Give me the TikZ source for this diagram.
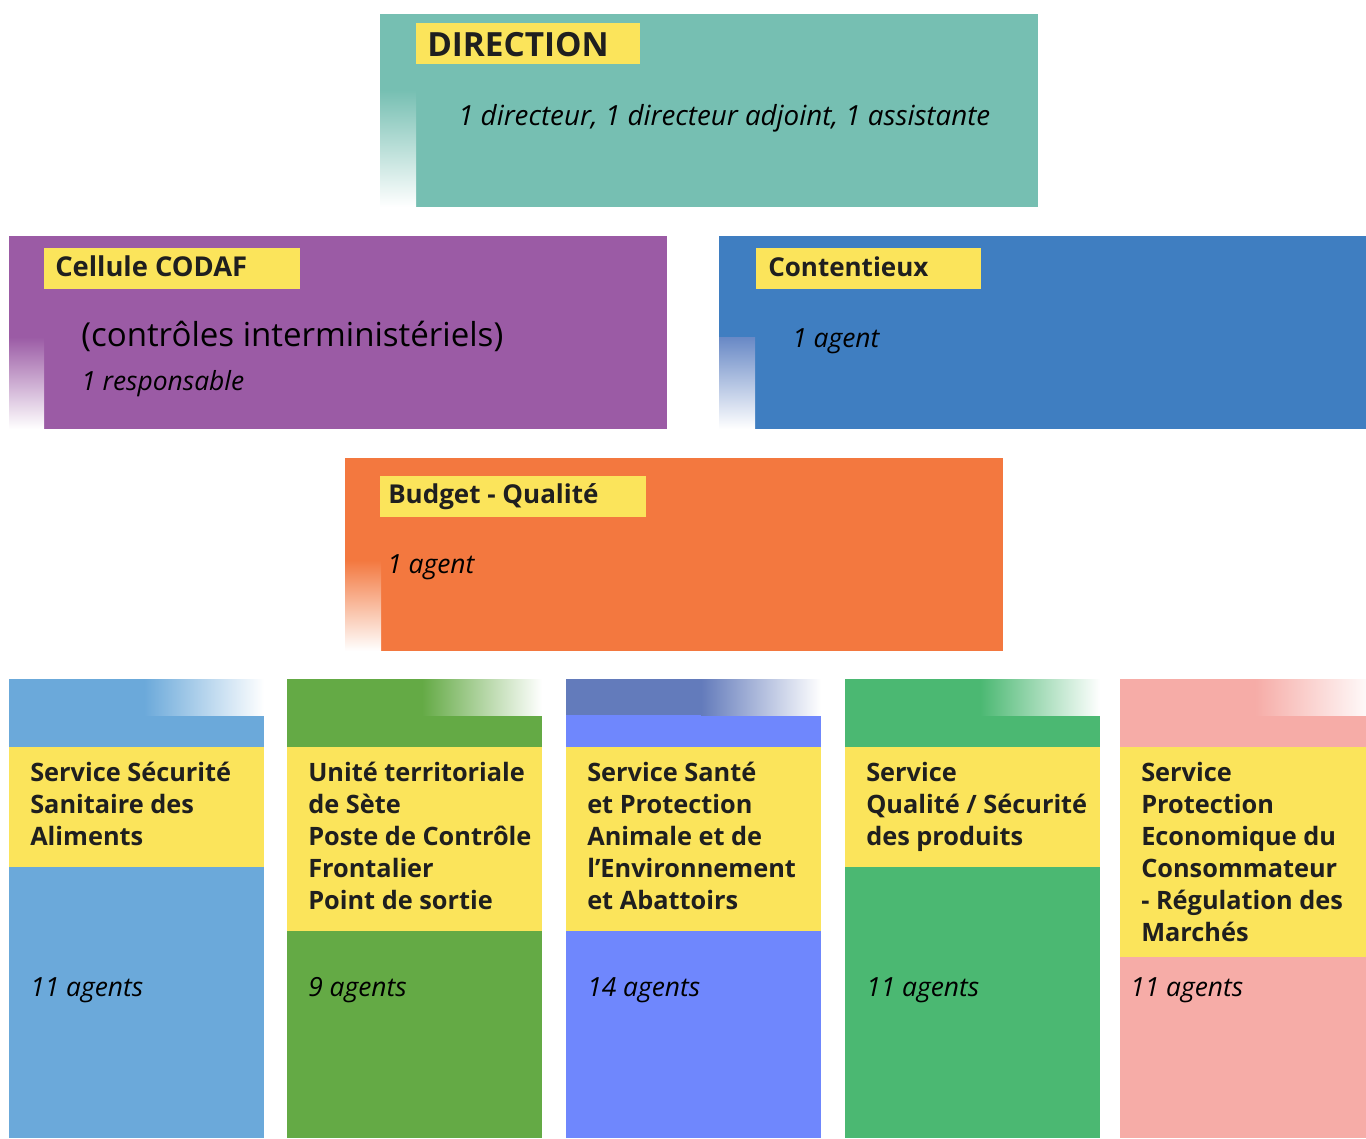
\documentclass[tikz,border=0pt]{standalone}
\usepackage{fontspec}
\setmainfont{Open Sans}
\definecolor{dircol}{HTML}{76BFB2}
\definecolor{codafcol}{HTML}{9B5BA5}
\definecolor{contcol}{HTML}{3F7EC1}
\definecolor{budgcol}{HTML}{F3783F}
\definecolor{labyellow}{HTML}{FBE45B}
\definecolor{ssacol}{HTML}{6BA9DA}
\definecolor{utcol}{HTML}{64AA45}
\definecolor{spacol}{HTML}{6F87FD}
\definecolor{spatop}{HTML}{637BBB}
\definecolor{sqcol}{HTML}{4BB872}
\definecolor{pecol}{HTML}{F6ACA7}
\begin{document}
\begin{tikzpicture}[x=0.75pt,y=-0.75pt,
  titletext/.style={anchor=base west, inner sep=0, text=black!88, font=\bfseries\fontsize{19.5}{24}\selectfont},
  agenttext/.style={anchor=base west, inner sep=0, font=\itshape\fontsize{19.8}{24}\selectfont},
  coltext/.style={anchor=north west, inner sep=0, align=left, text=black!88, font=\bfseries\fontsize{19}{24}\selectfont}]
\useasboundingbox (0,0) rectangle (1366,1138);

% direction
\fill[dircol] (416,14) rectangle (1038,207);
\fill[dircol] (380,14) rectangle (416,90);
\shade[top color=dircol, bottom color=white] (380,90) rectangle (416,207);
\fill[labyellow] (416,23) rectangle (640,64);
\node[titletext, font=\bfseries\fontsize{25}{30}\selectfont] (dirtitle) at (427,57) {DIRECTION};
\node[agenttext, font=\itshape\fontsize{20.8}{24}\selectfont] (dirstaff) at (458,125) {1 directeur, 1 directeur adjoint, 1 assistante};

% cellule codaf
\fill[codafcol] (44,236) rectangle (667,429);
\fill[codafcol] (9,236) rectangle (44,337);
\shade[top color=codafcol, bottom color=white] (9,337) rectangle (44,429);
\fill[labyellow] (44,248) rectangle (300,289);
\node[titletext, font=\bfseries\fontsize{20.5}{24}\selectfont] (codaftitle) at (55,276) {Cellule CODAF};
\node[anchor=base west, inner sep=0, font=\fontsize{24.8}{28}\selectfont] (codafsub) at (81,346) {(contrôles interministériels)};
\node[agenttext] (codafstaff) at (81,390) {1 responsable};

% contentieux
\fill[contcol] (755,236) rectangle (1366,429);
\fill[contcol] (719,236) rectangle (755,337);
\shade[top color=contcol!80!white!90!violet, bottom color=white] (719,337) rectangle (755,429);
\fill[labyellow] (756,248) rectangle (981,289);
\node[titletext] (conttitle) at (768,276) {Contentieux};
\node[agenttext] (contstaff) at (792,347) {1 agent};

% budget - qualite
\fill[budgcol] (381,458) rectangle (1003,651);
\fill[budgcol] (345,458) rectangle (381,560);
\shade[top color=budgcol, bottom color=white] (345,560) rectangle (381,651);
\fill[labyellow] (380,476) rectangle (646,517);
\node[titletext] (budgtitle) at (388,503) {Budget - Qualité};
\node[agenttext] (budgstaff) at (387,573) {1 agent};

% services
\foreach \x/\col/\top/\ybot/\name/\txt/\nb/\dx in {
  9/ssacol/ssacol/867/ssa/{Service Sécurité\\Sanitaire des\\Aliments}/11/21,
  287/utcol/utcol/931/ut/{Unité territoriale\\de Sète\\Poste de Contrôle\\Frontalier\\Point de sortie}/9/21,
  566/spacol/spatop/931/spa/{Service Santé\\et Protection\\Animale et de\\l’Environnement\\et Abattoirs}/14/21,
  845/sqcol/sqcol/867/sq/{Service\\Qualité / Sécurité\\des produits}/11/21,
  1120/pecol/pecol/957/pe/{Service\\Protection\\Economique du\\Consommateur\\- Régulation des\\Marchés}/11/10} {
  \fill[\col] (\x,715) rectangle ++(255,423);
  \fill[\top] (\x,679) rectangle ++(135,36);
  \shade[left color=\top, right color=white] (\x+135,679) rectangle ++(120,36);
  \fill[labyellow] (\x,747) rectangle (\x+255,\ybot);
  \node[coltext] (\name) at (\x+21,757) {\rule{0pt}{18pt}\txt};
  \node[agenttext] (\name staff) at (\x+\dx,996) {\nb{} agents};
}
\end{tikzpicture}
\end{document}
